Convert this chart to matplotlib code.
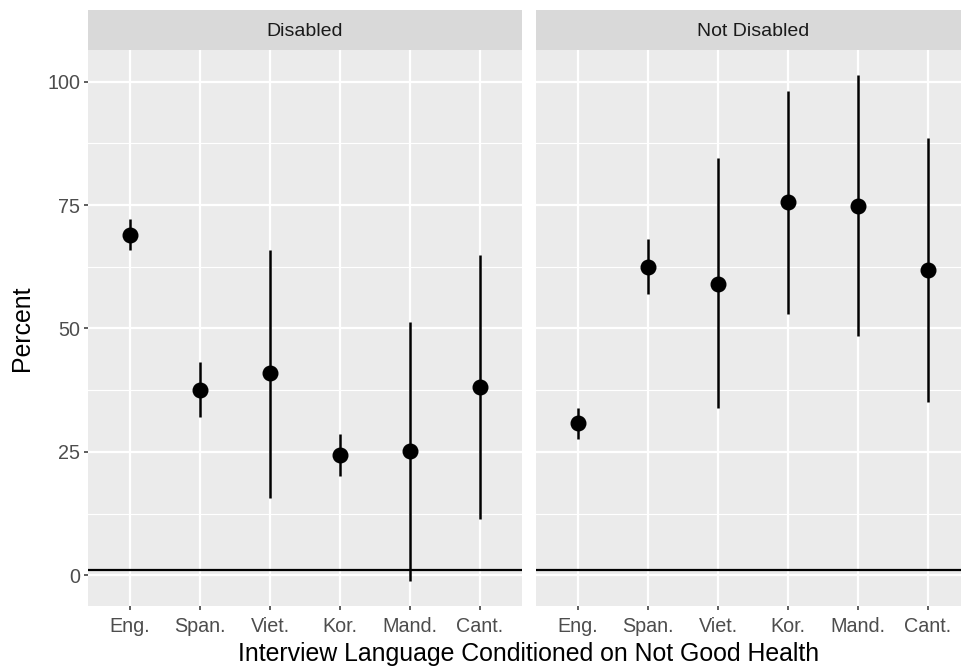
import numpy as np
import matplotlib
matplotlib.use("Agg")
import matplotlib.pyplot as plt

# 数据
langs = ['Eng.', 'Span.', 'Viet.', 'Kor.', 'Mand.', 'Cant.']
panels = ['Disabled', 'Not Disabled']

dis_est = [69.0, 37.5, 40.9, 24.3, 25.2, 38.2]
dis_lo = [66.0, 32.0, 15.7, 20.1, -1.1, 11.5]
dis_hi = [72.1, 43.2, 66.0, 28.7, 51.4, 64.9]

notdis_est = [30.8, 62.5, 59.1, 75.7, 74.8, 61.9]
notdis_lo = [27.6, 56.9, 33.8, 53.0, 48.4, 35.1]
notdis_hi = [33.8, 68.1, 84.5, 98.1, 101.3, 88.6]

hline_y = 1

plt.rcParams['font.family'] = ['Liberation Sans', 'DejaVu Sans']

W, H = 961, 667
fig = plt.figure(figsize=(W / 100, H / 100), dpi=100)

def px(x0, y0, x1, y1):
    # 像素坐标 -> figure 坐标
    return [x0 / W, 1 - y1 / H, (x1 - x0) / W, (y1 - y0) / H]

# y 轴范围：ggplot 风格 5% 扩展
allv = dis_lo + dis_hi + notdis_lo + notdis_hi
ymin, ymax = min(allv), max(allv)
pad = 0.05 * (ymax - ymin)
ylim = (ymin - pad, ymax + pad)

data = [(dis_est, dis_lo, dis_hi), (notdis_est, notdis_lo, notdis_hi)]
lefts = [88, 536]
pw = 434

for i, (est, lo, hi) in enumerate(data):
    x0 = lefts[i]
    ax = fig.add_axes(px(x0, 50, x0 + pw, 606))
    ax.set_facecolor('#EBEBEB')
    xs = np.arange(len(langs))
    ax.set_xlim(-0.6, len(langs) - 0.4)
    ax.set_ylim(*ylim)
    ax.set_yticks([0, 25, 50, 75, 100])
    ax.set_yticks([12.5, 37.5, 62.5, 87.5], minor=True)
    ax.set_xticks(xs)
    ax.set_xticklabels(langs)
    ax.grid(True, which='major', color='white', lw=1.6)
    ax.grid(True, which='minor', axis='y', color='white', lw=0.8)
    ax.set_axisbelow(True)
    for s in ax.spines.values():
        s.set_visible(False)
    ax.tick_params(which='major', length=3.2, width=1.1, color='#333333',
                   labelsize=14.2, labelcolor='#4D4D4D', pad=2.5)
    ax.tick_params(axis='x', which='major', pad=4.5)
    ax.tick_params(which='minor', length=0)
    if i > 0:
        ax.tick_params(axis='y', which='both', length=0, labelleft=False)

    ax.axhline(hline_y, color='black', lw=1.6, zorder=2)
    ax.vlines(xs, lo, hi, color='black', lw=1.8, zorder=3)
    ax.plot(xs, est, 'o', color='black', ms=10.5, zorder=4)

    # 分面标题条
    sax = fig.add_axes(px(x0, 10, x0 + pw, 50))
    sax.set_facecolor('#D9D9D9')
    sax.set_xticks([])
    sax.set_yticks([])
    for s in sax.spines.values():
        s.set_visible(False)
    sax.text(0.5, 0.45, panels[i], ha='center', va='center',
             fontsize=14, color='#1A1A1A', transform=sax.transAxes)

fig.text(22 / W, 1 - 328 / H, 'Percent', rotation=90, ha='center', va='center',
         fontsize=17.9, color='black')
fig.text(529 / W, 1 - 654 / H, 'Interview Language Conditioned on Not Good Health',
         ha='center', va='center', fontsize=17.9, color='black')

fig.savefig('out.png', dpi=100, facecolor='white')
